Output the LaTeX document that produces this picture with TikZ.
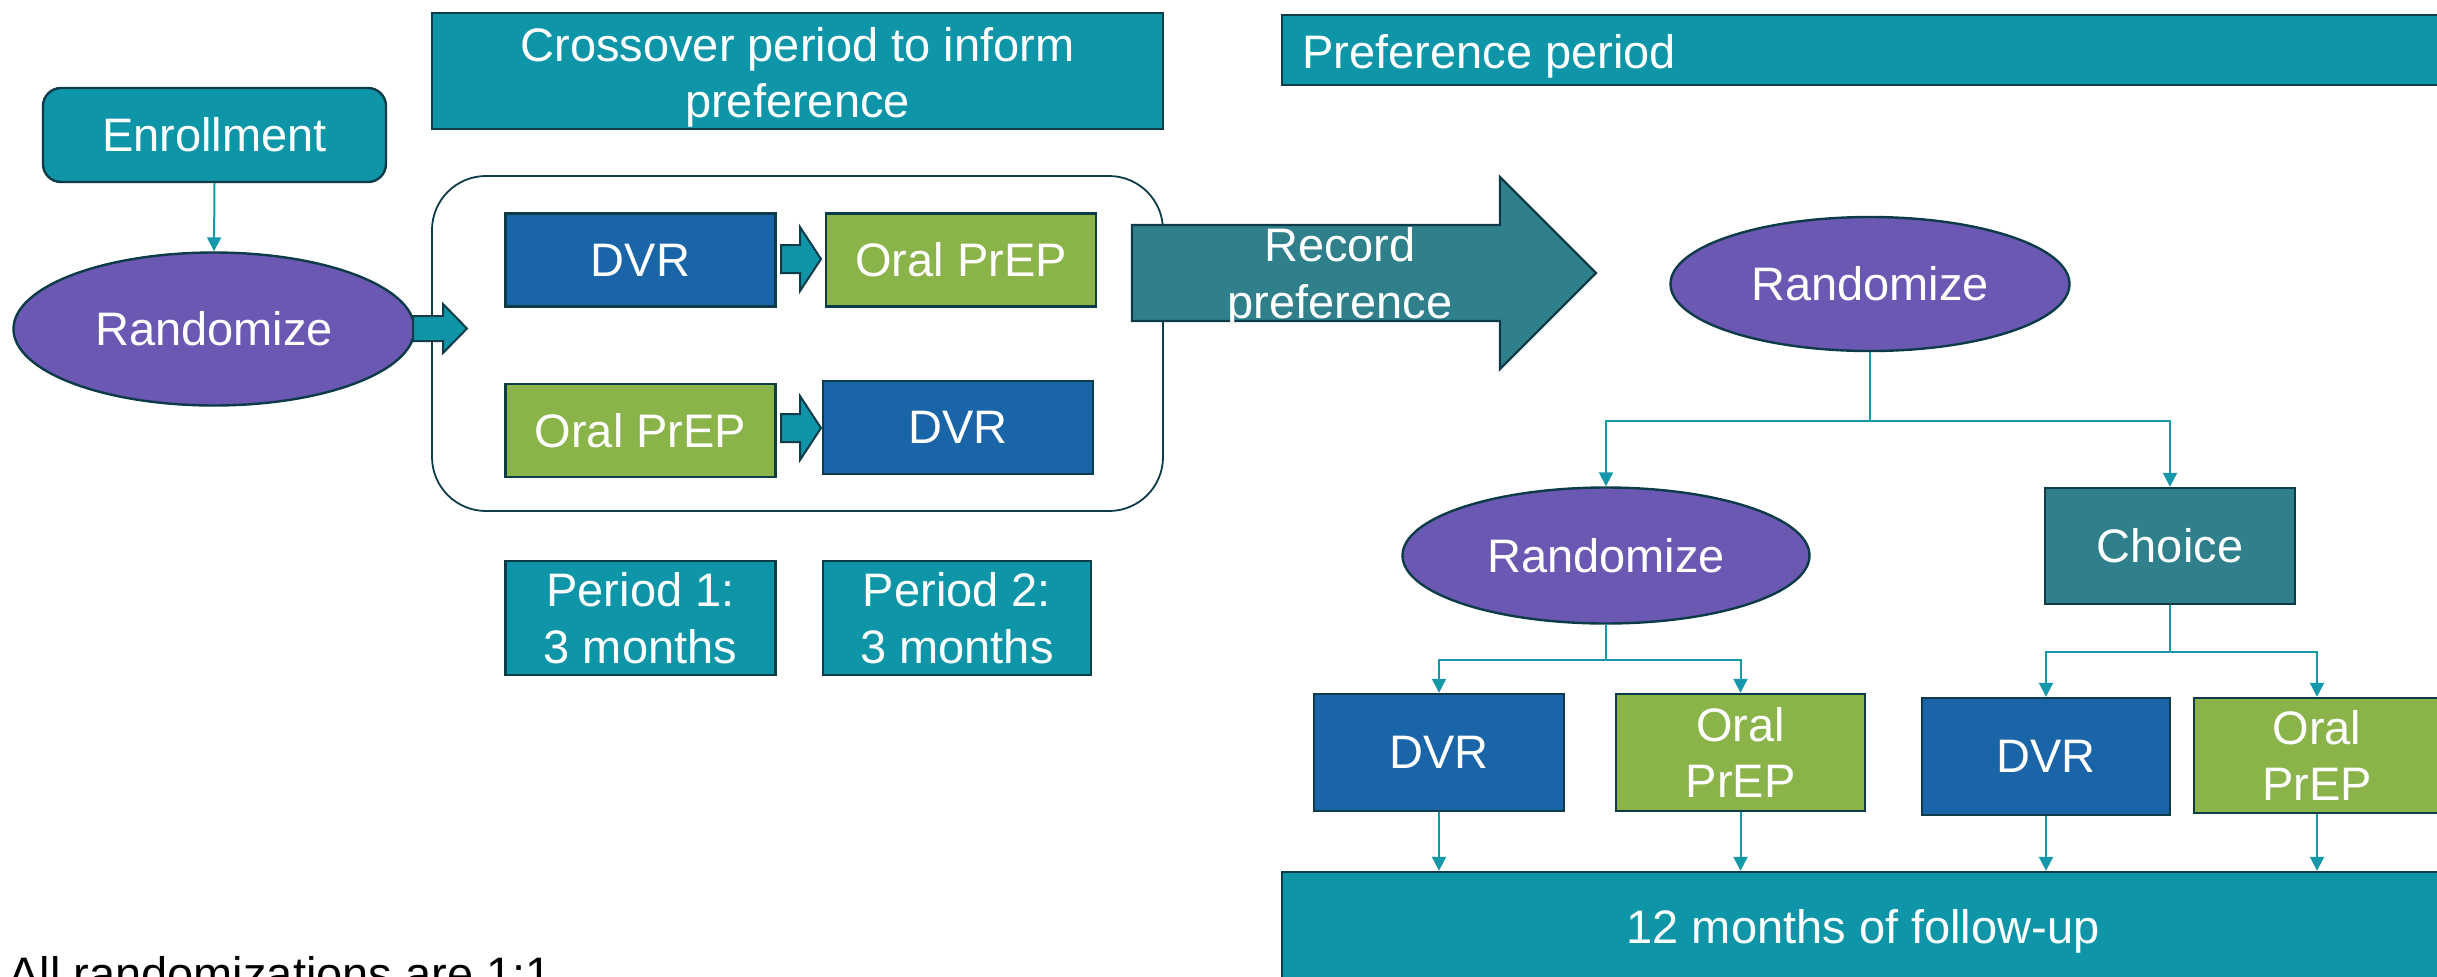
\documentclass[tikz,border=0pt]{standalone}
\usepackage{fontspec}
\setmainfont{Liberation Sans}
\usetikzlibrary{shapes.geometric,arrows.meta,calc}
\definecolor{teal1}{HTML}{0E96A8}
\definecolor{darkteal}{HTML}{30808C}
\definecolor{purp}{HTML}{6A58B3}
\definecolor{dvrblue}{HTML}{1A64A8}
\definecolor{prepgreen}{HTML}{8AB34A}
\definecolor{bord}{HTML}{0D3B48}
\definecolor{conncol}{HTML}{1599AA}
\newcommand\fs{\fontsize{23.5}{28.3}\selectfont}
\tikzset{
  box/.style={draw=bord, line width=1.2pt, text=white, font=\fs, align=center, inner sep=0pt},
  tealbox/.style={box, fill=teal1},
  dvrbox/.style={box, fill=dvrblue},
  prepbox/.style={box, fill=prepgreen},
  rndnode/.style={box, ellipse, fill=purp},
  txt/.style={text=white, font=\fs, align=center, inner sep=0pt},
  conn/.style={draw=conncol, line width=1pt, -{Triangle[length=7pt,width=7pt]}},
  blockarrow/.style={fill=teal1, draw=bord, line width=1pt, line join=miter},
}
\begin{document}
\begin{tikzpicture}[x=0.5pt,y=-0.5pt]
\useasboundingbox (0,0) rectangle (2437,976);

% left part
\node[tealbox, rounded corners=9pt, minimum width=171.5pt, minimum height=47pt] (enr) at (214.5,135) {Enrollment};
\node[rndnode, minimum width=200.5pt, minimum height=76.5pt] (r1) at (214,329) {Randomize};
\draw[conn] (enr.south) -- (r1.north);

% crossover header
\node[tealbox, minimum width=365.5pt, minimum height=58pt] (cross) at (797.5,71) {};
\node[txt] (crosst) at (797.5,77.5) {Crossover period to inform\\preference};

% container
\node[draw=bord, line width=0.9pt, rounded corners=27pt, minimum width=365.5pt, minimum height=167.5pt] (cont) at (797.5,343.5) {};

% block arrow randomize -> container
\draw[blockarrow] (413,316) -- (443,316) -- (443,304) -- (467,328.5) -- (443,353) -- (443,341) -- (413,341) -- cycle;

\node[dvrbox, minimum width=135pt, minimum height=46.5pt] (dvr1) at (640.5,260) {DVR};
\node[prepbox, minimum width=135pt, minimum height=46.5pt] (oral1) at (961,260) {Oral PrEP};
\node[prepbox, minimum width=135pt, minimum height=46.5pt] (oral2) at (640.5,430.5) {Oral PrEP};
\node[dvrbox, minimum width=135pt, minimum height=46.5pt] (dvr2) at (958,427.5) {DVR};

\draw[blockarrow] (781,245) -- (800,245) -- (800,227) -- (821,259) -- (800,291) -- (800,273) -- (781,273) -- cycle;
\draw[blockarrow] (781,414) -- (800,414) -- (800,396) -- (821,428) -- (800,460) -- (800,442) -- (781,442) -- cycle;

\node[tealbox, minimum width=135pt, minimum height=57pt] (p1) at (640.5,618) {Period 1:\\3 months};
\node[tealbox, minimum width=134pt, minimum height=57pt] (p2) at (957,618) {Period 2:\\3 months};

% record preference arrow
\draw[fill=darkteal, draw=bord, line width=1.2pt, line join=miter] (1132,225) -- (1500,225) -- (1500,177) -- (1596,273) -- (1500,369) -- (1500,321) -- (1132,321) -- cycle;
\begin{scope}
\clip (1132,225) -- (1500,225) -- (1500,177) -- (1596,273) -- (1500,369) -- (1500,321) -- (1132,321) -- cycle;
\node[txt] (rec) at (1340,278) {Record\\preference};
\end{scope}

% preference header
\node[tealbox, minimum width=579.5pt, minimum height=35pt] (pref) at (1861.5,50) {};
\node[txt, anchor=base west] (preft) at (1302,68) {Preference period};

% right tree
\node[rndnode, minimum width=199.5pt, minimum height=67pt] (r2) at (1870,284) {Randomize};
\node[rndnode, minimum width=203.5pt, minimum height=68pt] (r3) at (1606,555.5) {Randomize};
\node[box, fill=darkteal, minimum width=125pt, minimum height=58pt] (choice) at (2170,546) {Choice};

\draw[conn] (r2.south) -- ++(0,69) -| (r3.north);
\draw[conn] (r2.south) -- ++(0,69) -| (choice.north);

\node[dvrbox, minimum width=125pt, minimum height=58.5pt] (dvrL) at (1439,752.5) {DVR};
\node[prepbox, minimum width=124.5pt, minimum height=58.5pt] (oralL) at (1740.5,752.5) {Oral\\PrEP};
\node[dvrbox, minimum width=124pt, minimum height=58.5pt] (dvrR) at (2046,756.5) {DVR};
\node[prepbox, minimum width=123pt, minimum height=57.5pt] (oralR) at (2317,755.5) {Oral\\PrEP};

\draw[conn] (r3.south) -- ++(0,35.5) -| (dvrL.north);
\draw[conn] (r3.south) -- ++(0,35.5) -| (oralL.north);
\draw[conn] (choice.south) -- ++(0,47) -| (dvrR.north);
\draw[conn] (choice.south) -- ++(0,47) -| (oralR.north);

\node[tealbox, minimum width=581pt, minimum height=59pt] (fu) at (1863,931) {12 months of follow-up};

\draw[conn] (dvrL.south) -- (dvrL.south |- fu.north);
\draw[conn] (oralL.south) -- (oralL.south |- fu.north);
\draw[conn] (dvrR.south) -- (dvrR.south |- fu.north);
\draw[conn] (oralR.south) -- (oralR.south |- fu.north);

\node[anchor=base west, font=\fs, text=black, inner sep=0pt] (note) at (8,990) {All randomizations are 1:1};
\end{tikzpicture}
\end{document}
